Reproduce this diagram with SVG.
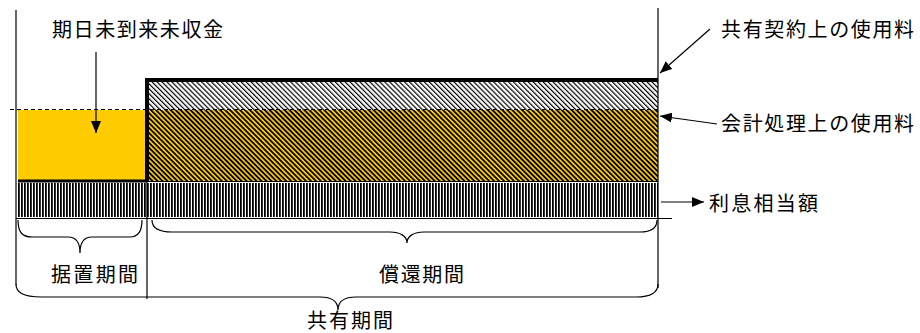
<svg xmlns="http://www.w3.org/2000/svg" width="920" height="333" viewBox="0 0 920 333">
<style>
text{font-family:"Noto Sans CJK JP","Noto Sans CJK SC",sans-serif;font-size:20px;fill:#000;}
.ln{stroke:#000;stroke-width:1.2;fill:none;}
.thick{stroke:#000;stroke-width:4;fill:none;}
.arr{stroke:#000;stroke-width:1.2;fill:none;marker-end:url(#ah);}
</style>
<defs>
<marker id="ah" viewBox="0 0 12 10" refX="12" refY="5" markerWidth="12" markerHeight="10" markerUnits="userSpaceOnUse" orient="auto">
<path d="M0,0 L12,5 L0,10 Z" fill="#000"/>
</marker>
<pattern id="light" width="3.5" height="4" patternUnits="userSpaceOnUse" patternTransform="rotate(-45)">
<rect width="3.5" height="4" fill="#fff"/>
<rect width="1.2" height="4" fill="#000"/>
</pattern>
<pattern id="dark" width="3.5" height="4" patternUnits="userSpaceOnUse" patternTransform="rotate(-45)">
<rect width="3.5" height="4" fill="#FFCC00"/>
<rect width="1.8" height="4" fill="#000"/>
</pattern>
<pattern id="vert" width="3" height="10" patternUnits="userSpaceOnUse">
<rect width="3" height="10" fill="#fff"/>
<rect width="1.8" height="10" fill="#000"/>
</pattern>
</defs>

<g id="contract-area">
<rect x="147" y="80" width="511" height="30" fill="url(#light)"/>
</g>
<g id="accounting-area">
<rect x="147" y="110" width="511" height="71" fill="url(#dark)"/>
</g>
<g id="uncollected-area">
<rect x="18" y="110" width="129" height="71" fill="#FFCC00"/>
</g>
<g id="interest-area">
<rect x="18" y="183" width="640" height="34" fill="url(#vert)"/>
</g>

<g id="connectors">
<line class="ln" x1="16" y1="10" x2="16" y2="285"/>
<line class="ln" x1="658" y1="8" x2="658" y2="288"/>
<line class="ln" x1="147" y1="80" x2="147" y2="299"/>
<line x1="10" y1="109.5" x2="658" y2="109.5" stroke="#000" stroke-width="1" stroke-dasharray="4,3"/>
<path class="thick" d="M147,181 L147,80 L658,80"/>
<line x1="18" y1="181" x2="147" y2="181" stroke="#000" stroke-width="3"/>
<line x1="147" y1="181.5" x2="658" y2="181.5" stroke="#000" stroke-width="1"/>
<line class="ln" x1="16" y1="218.5" x2="672" y2="218.5"/>
<path class="ln" d="M18,220 C18,232 22,237 32,237 L68,237 C76,237 80,243 80,253 C80,243 84,237 92,237 L130,237 C138,237 142,232 142,220"/>
<path class="ln" d="M152,220 C152,228 158,232 172,232 L390,232 C400,232 407,236 407,243 C407,236 414,232 424,232 L640,232 C652,232 657,228 657,220"/>
<path class="ln" d="M16,284 C16,292 22,297 42,297 L320,297 C332,297 338,302 338,310 C338,302 344,297 356,297 L636,297 C652,297 658,292 658,284"/>
<line class="arr" x1="96" y1="52" x2="96" y2="133"/>
<line class="arr" x1="710" y1="29" x2="660" y2="73"/>
<line class="arr" x1="717" y1="124" x2="660" y2="116"/>
<line class="arr" x1="661" y1="202" x2="704" y2="202"/>
</g>

<g id="label-uncollected"><text x="52" y="37" textLength="171" lengthAdjust="spacing">期日未到来未収金</text></g>
<g id="label-contract"><text x="721" y="37" textLength="193" lengthAdjust="spacing">共有契約上の使用料</text></g>
<g id="label-accounting"><text x="721" y="131" textLength="193" lengthAdjust="spacing">会計処理上の使用料</text></g>
<g id="label-interest"><text x="709" y="211" textLength="109" lengthAdjust="spacing">利息相当額</text></g>
<g id="label-deferral"><text x="51" y="282" textLength="87" lengthAdjust="spacing">据置期間</text></g>
<g id="label-repayment"><text x="379" y="282" textLength="85" lengthAdjust="spacing">償還期間</text></g>
<g id="label-coown"><text x="307" y="328" textLength="86" lengthAdjust="spacing">共有期間</text></g>
</svg>
